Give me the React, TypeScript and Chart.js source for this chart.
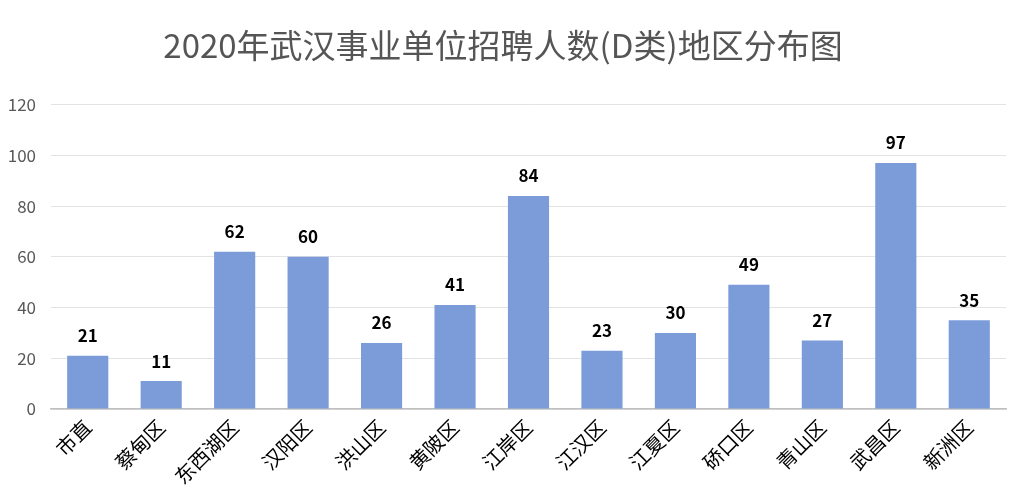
import React, { useEffect, useRef } from "react";
import { Chart, registerables } from "chart.js";
Chart.register(...registerables);

const chartTitle = "2020年武汉事业单位招聘人数(D类)地区分布图";
const categories = ["市直", "蔡甸区", "东西湖区", "汉阳区", "洪山区", "黄陂区", "江岸区", "江汉区", "江夏区", "硚口区", "青山区", "武昌区", "新洲区"];
const values = [21, 11, 62, 60, 26, 41, 84, 23, 30, 49, 27, 97, 35];
const yMin = 0;
const yMax = 120;
const yStep = 20;

const FONT = "'Noto Sans CJK SC', 'Noto Sans', sans-serif";

const valueLabels = {
  id: "valueLabels",
  afterDatasetsDraw(chart: any) {
    const ctx = chart.ctx;
    const meta = chart.getDatasetMeta(0);
    ctx.save();
    ctx.font = `bold 17px ${FONT}`;
    ctx.fillStyle = "#000";
    ctx.textAlign = "center";
    ctx.textBaseline = "middle";
    meta.data.forEach((bar: any, i: number) => {
      ctx.fillText(String(values[i]), bar.x, bar.y - 20);
    });
    ctx.restore();
  },
};

export default function App() {
  const ref = useRef<HTMLCanvasElement | null>(null);
  useEffect(() => {
    document.body.style.margin = "0";
    const chart = new Chart(ref.current!, {
      type: "bar",
      data: {
        labels: categories,
        datasets: [
          {
            data: values,
            backgroundColor: "#7b9cd8",
            barPercentage: 0.56,
            categoryPercentage: 1,
          },
        ],
      },
      options: {
        animation: false,
        responsive: false,
        layout: { padding: { left: 0, right: 12, top: 0, bottom: 0 } },
        plugins: {
          legend: { display: false },
          tooltip: { enabled: false },
          title: {
            display: true,
            text: chartTitle,
            color: "#555555",
            font: { family: FONT, size: 33, weight: "normal" },
            padding: { top: 26, bottom: 39 },
          },
        },
        scales: {
          x: {
            grid: { display: false, drawTicks: false },
            border: { color: "#bfbfbf", width: 1.5 },
            ticks: {
              color: "#000",
              font: { family: FONT, size: 20 },
              minRotation: 45,
              maxRotation: 45,
              padding: 6,
              autoSkip: false,
            },
            afterFit(scale: any) {
              scale.height = 87;
            },
          },
          y: {
            min: yMin,
            max: yMax,
            ticks: {
              stepSize: yStep,
              color: "#595959",
              font: { family: FONT, size: 17 },
              padding: 15,
            },
            grid: { color: "#e3e3e3", lineWidth: 1, drawTicks: false },
            border: { display: false },
            afterFit(scale: any) {
              scale.width = 51;
            },
          },
        },
      },
      plugins: [valueLabels],
    });
    return () => chart.destroy();
  }, []);
  return (
    <div style={{ position: "absolute", left: 0, top: 0, width: 1018, height: 496, background: "#fff" }}>
      <canvas ref={ref} width={1018} height={496} style={{ display: "block" }} />
    </div>
  );
}
